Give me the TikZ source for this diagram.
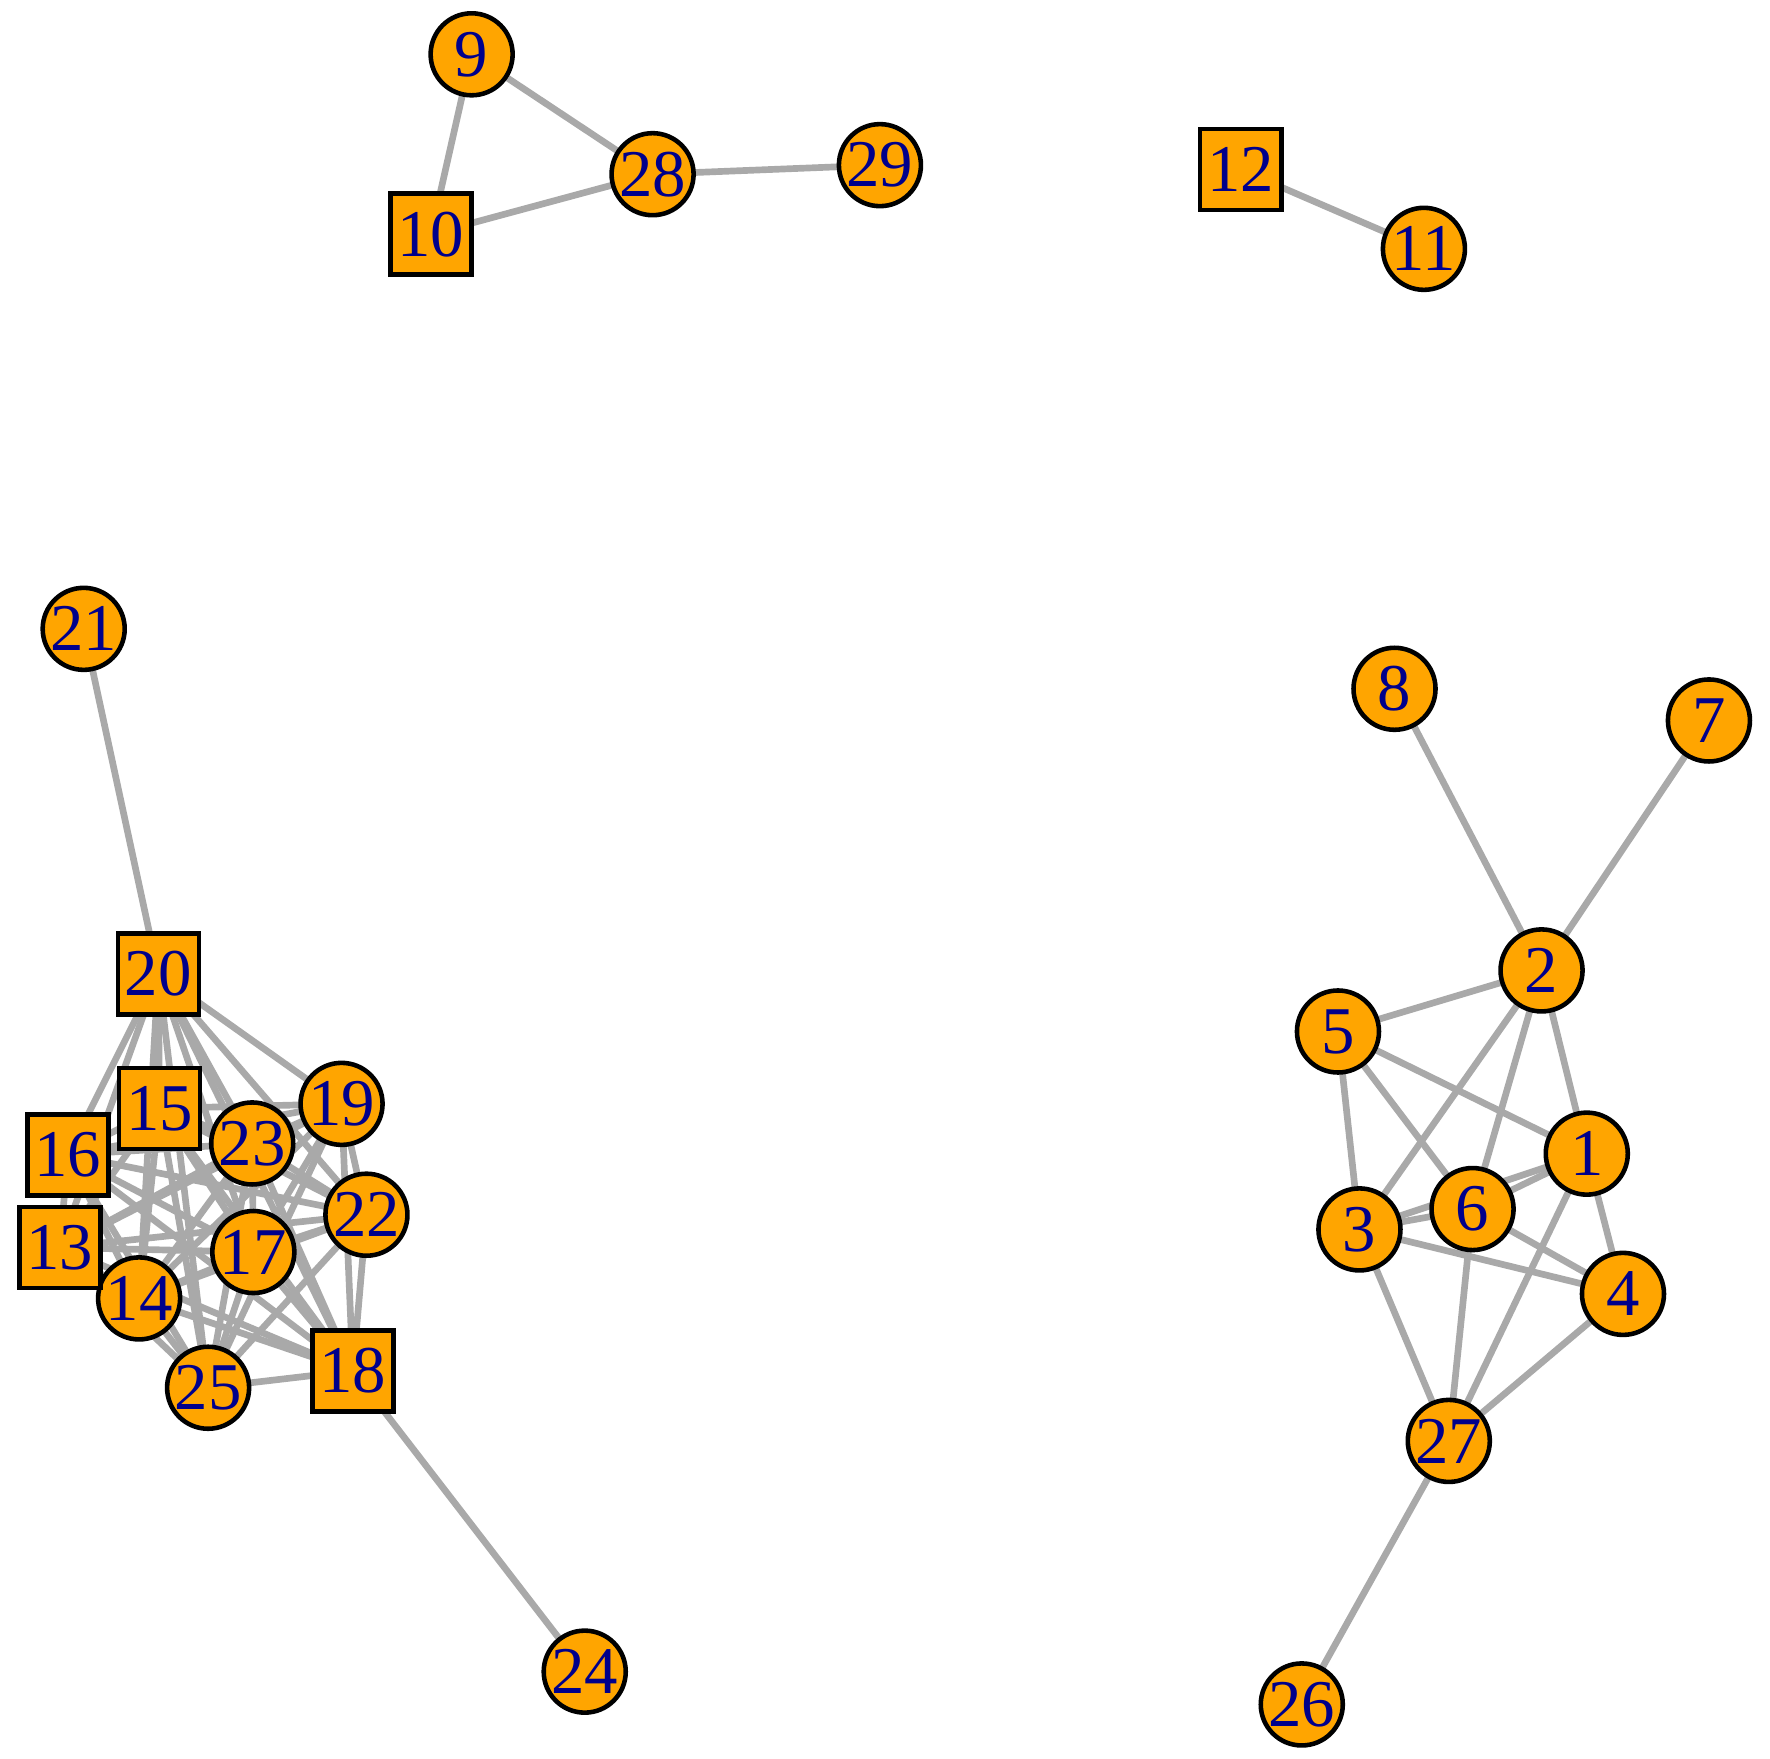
\documentclass[tikz,border=0pt]{standalone}
\usepackage{fontspec}
\setmainfont{Liberation Serif}
\begin{document}
\begin{tikzpicture}[x=0.01131cm,y=-0.01131cm,
  vc/.style={circle,draw=black,line width=1.3pt,fill={rgb,255:red,255;green,165;blue,0},minimum size=0.82cm,inner sep=0pt,text={rgb,255:red,0;green,0;blue,139},font=\fontsize{19}{19}\selectfont},
  vs/.style={vc,rectangle,minimum size=0.81cm},
  ed/.style={draw={rgb,255:red,169;green,169;blue,169},line width=1.9pt}]
\useasboundingbox (0,0) rectangle (1565,1555);
\foreach \n/\x/\y in {9/417/48,28/577/154,29/778/146,11/1259/220,21/74/556,8/1233/609,7/1511/637,2/1363/858,5/1183/912,1/1403/1020,6/1302/1069,3/1202/1087,4/1435/1144,27/1281/1274,26/1151/1507,24/517/1478,14/123/1148,25/184/1227,17/224/1107,22/324/1074,23/223/1011,19/302/976,10/381/207,12/1097/150,20/140/861,15/141/980,16/60/1021,13/53/1103,18/312/1212}
  \coordinate (p\n) at (\x,\y);
\foreach \a/\b in {9/28,9/10,10/28,28/29,12/11,21/20,18/24,27/26,2/8,2/7,2/5,2/3,2/6,2/1,5/1,5/6,5/3,1/6,1/3,3/6,1/4,1/27,3/4,3/27,6/4,6/27,4/27}
  \draw[ed] (p\a) -- (p\b);
\foreach \a/\bs in {13/{14,15,16,17,18,19,20,22,23,25},14/{15,16,17,18,19,20,22,23,25},15/{16,17,18,19,20,22,23,25},16/{17,18,19,20,22,23,25},17/{18,19,20,22,23,25},18/{19,20,22,23,25},19/{20,22,23,25},20/{22,23,25},22/{23,25},23/{25}}
  \foreach \b in \bs
    \draw[ed] (p\a) -- (p\b);
\foreach \n in {9,28,29,11,21,8,7,2,5,1,6,3,4,27,26,24,14,25,17,22,23,19}
  \node[vc] (n\n) at (p\n) {\n};
\foreach \n in {10,12,20,15,16,13,18}
  \node[vs] (n\n) at (p\n) {\n};
\end{tikzpicture}
\end{document}
